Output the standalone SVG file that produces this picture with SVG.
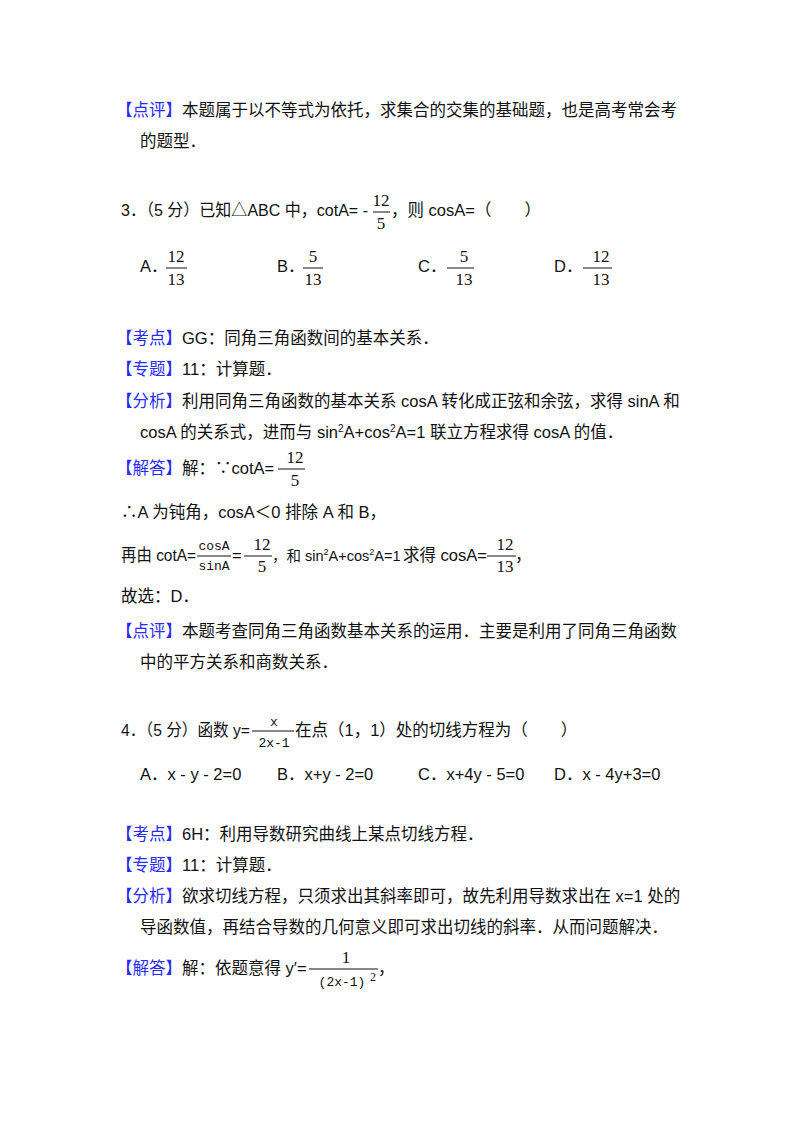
<svg xmlns="http://www.w3.org/2000/svg" width="800" height="1133" viewBox="0 0 800 1133">
<style>
text{font-family:"Liberation Sans","Noto Sans CJK SC",sans-serif;font-size:16.5px;fill:#111}
.b{fill:#2a2aff}
.m{font-family:"Liberation Serif","Noto Sans CJK SC",serif;font-size:17px}
.ms{font-family:"Liberation Mono",monospace;font-size:13px}
line{stroke:#111;stroke-width:1}
</style>
<rect width="800" height="1133" fill="#fff"/>
<g id="p1">
<text x="116" y="116"><tspan class="b">【点评】</tspan>本题属于以不等式为依托，求集合的交集的基础题，也是高考常会考</text>
<text x="140" y="147">的题型．</text>
</g>
<g id="q3">
<text x="121" y="216" textLength="247" lengthAdjust="spacingAndGlyphs">3．（5 分）已知△ABC 中，cotA= -</text>
<text class="m" x="381" y="206" text-anchor="middle">12</text><line x1="373" y1="212" x2="390" y2="212"/><text class="m" x="381" y="229" text-anchor="middle">5</text>
<text x="391" y="216">，则 cosA=（　　）</text>
<text x="140" y="272">A．</text><text class="m" x="176" y="262" text-anchor="middle">12</text><line x1="166" y1="268" x2="187" y2="268"/><text class="m" x="176" y="285" text-anchor="middle">13</text>
<text x="277" y="272">B．</text><text class="m" x="313" y="262" text-anchor="middle">5</text><line x1="303" y1="268" x2="323" y2="268"/><text class="m" x="313" y="285" text-anchor="middle">13</text>
<text x="418" y="272">C．</text><line x1="447" y1="268" x2="474" y2="268"/><text class="m" x="464" y="262" text-anchor="middle">5</text><text class="m" x="464" y="285" text-anchor="middle">13</text>
<text x="554" y="272">D．</text><line x1="583" y1="268" x2="612" y2="268"/><text class="m" x="601" y="262" text-anchor="middle">12</text><text class="m" x="601" y="285" text-anchor="middle">13</text>
</g>
<g id="s3">
<text x="116" y="344"><tspan class="b">【考点】</tspan>GG：同角三角函数间的基本关系．</text>
<text x="116" y="375"><tspan class="b">【专题】</tspan>11：计算题．</text>
<text x="116" y="407"><tspan class="b">【分析】</tspan>利用同角三角函数的基本关系 cosA 转化成正弦和余弦，求得 sinA 和</text>
<text x="140" y="438">cosA 的关系式，进而与 sin<tspan font-size="10" dy="-6">2</tspan><tspan dy="6">A+cos</tspan><tspan font-size="10" dy="-6">2</tspan><tspan dy="6">A=1 联立方程求得 cosA 的值．</tspan></text>
<text x="116" y="474"><tspan class="b">【解答】</tspan>解：∵cotA=</text>
<line x1="278" y1="469" x2="305" y2="469"/><text class="m" x="295" y="463" text-anchor="middle">12</text><text class="m" x="295" y="486" text-anchor="middle">5</text>
<text x="121" y="518">∴A 为钝角，cosA＜0 排除 A 和 B，</text>
<text x="121" y="561" textLength="75" lengthAdjust="spacingAndGlyphs">再由 cotA=</text>
<text class="ms" x="214" y="550" text-anchor="middle">cosA</text><line x1="197" y1="556" x2="231" y2="556"/><text class="ms" x="214" y="570" text-anchor="middle">sinA</text>
<text x="232" y="561">=</text><line x1="244" y1="556" x2="272" y2="556"/><text class="m" x="262" y="550" text-anchor="middle">12</text><text class="m" x="262" y="572" text-anchor="middle">5</text>
<text x="272" y="561" style="font-size:14.5px">，和 sin<tspan font-size="9" dy="-6">2</tspan><tspan dy="6">A+cos</tspan><tspan font-size="9" dy="-6">2</tspan><tspan dy="6">A=1</tspan></text>
<text x="403" y="561">求得 cosA=</text>
<line x1="487" y1="556" x2="516" y2="556"/><text class="m" x="505" y="550" text-anchor="middle">12</text><text class="m" x="505" y="572" text-anchor="middle">13</text>
<text x="515" y="561">，</text>
<text x="121" y="602">故选：D．</text>
<text x="116" y="637"><tspan class="b">【点评】</tspan>本题考查同角三角函数基本关系的运用．主要是利用了同角三角函数</text>
<text x="140" y="668">中的平方关系和商数关系．</text>
</g>
<g id="q4">
<text x="121" y="736" textLength="129" lengthAdjust="spacingAndGlyphs">4．（5 分）函数 y=</text>
<text class="ms" x="274" y="726" text-anchor="middle">x</text><line x1="252" y1="731" x2="294" y2="731"/><text class="ms" x="274" y="747" text-anchor="middle">2x-1</text>
<text x="295" y="736">在点（1，1）处的切线方程为（　　）</text>
<text x="140" y="780">A．x - y - 2=0</text>
<text x="277" y="780">B．x+y - 2=0</text>
<text x="418" y="780">C．x+4y - 5=0</text>
<text x="554" y="780">D．x - 4y+3=0</text>
</g>
<g id="s4">
<text x="116" y="840"><tspan class="b">【考点】</tspan>6H：利用导数研究曲线上某点切线方程．</text>
<text x="116" y="871"><tspan class="b">【专题】</tspan>11：计算题．</text>
<text x="116" y="902"><tspan class="b">【分析】</tspan>欲求切线方程，只须求出其斜率即可，故先利用导数求出在 x=1 处的</text>
<text x="140" y="933">导函数值，再结合导数的几何意义即可求出切线的斜率．从而问题解决．</text>
<text x="116" y="974"><tspan class="b">【解答】</tspan>解：依题意得 y′=</text>
<line x1="309" y1="969" x2="378" y2="969"/><text class="m" x="346" y="963" text-anchor="middle">1</text><text class="ms" x="342" y="986" text-anchor="middle">(2x-1)</text><text class="m" style="font-size:12px" x="370" y="981">2</text>
<text x="378" y="974">，</text>
</g>
</svg>
